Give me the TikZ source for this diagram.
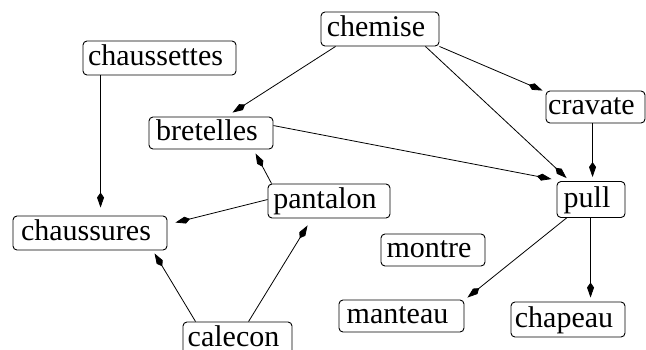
\documentclass[tikz,border=0pt]{standalone}
\usepackage{fontspec}
\setmainfont{Liberation Serif}
\usetikzlibrary{arrows.meta,calc}
\begin{document}
\begin{tikzpicture}[x=1pt,y=-1pt,
  box/.style={draw, rounded corners=4pt, line width=0.9pt, inner sep=0pt,
    minimum height=34pt, text height=20pt, text depth=5pt,
    font=\fontsize{30}{32}\selectfont, execute at end node={\kern8pt}},
  edge/.style={line width=0.8pt, -{Kite[length=15pt,width=7pt,inset=5pt]}}]
\useasboundingbox (0,0) rectangle (646,349);
\clip (0,0) rectangle (646,349);
\node[box, minimum width=153pt] (chaussettes) at (159.5,58) {chaussettes};
\node[box, minimum width=124pt, minimum height=32pt] (bretelles) at (211,133) {bretelles};
\node[box, minimum width=118pt] (chemise) at (380,29) {chemise};
\node[box, minimum width=99pt, minimum height=32pt] (cravate) at (595.5,107) {cravate};
\node[box, minimum width=68pt, minimum height=36pt] (pull) at (591,199.5) {pull};
\node[box, minimum width=122pt] (pantalon) at (329,201) {pantalon};
\node[box, minimum width=154pt] (chaussures) at (90,233) {chaussures};
\node[box, minimum width=109pt] (calecon) at (237.5,339) {calecon};
\node[box, minimum width=104pt, minimum height=32pt] (montre) at (433,250) {montre};
\node[box, minimum width=125pt, minimum height=32pt] (manteau) at (401.5,316) {manteau};
\node[box, minimum width=114pt, minimum height=35pt] (chapeau) at (568,319.5) {chapeau};

\draw[edge] ($(chaussettes.south west)+(18,0)$) -- ($(chaussures.north west)+(88,-8)$);
\draw[edge] ($(chemise.south west)+(15,0)$) -- ($(bretelles.north west)+(84,-4)$);
\draw[edge] (chemise.south east) -- ($(cravate.north west)+(-3,0)$);
\draw[edge] ($(chemise.south east)+(-14,0)$) -- ($(pull.north west)+(10,-3)$);
\draw[edge] ($(cravate.south west)+(47,0)$) -- ($(pull.north west)+(36,-4)$);
\draw[edge] ($(bretelles.north east)+(0,9)$) -- ($(pull.north west)+(-5,-2)$);
\draw[edge] ($(pantalon.north west)+(4,0)$) -- ($(bretelles.south west)+(107,4)$);
\draw[edge] ($(pantalon.north west)+(0,16)$) -- ($(chaussures.north east)+(8,7)$);
\draw[edge] ($(calecon.north west)+(13,0)$) -- ($(chaussures.south west)+(142,3)$);
\draw[edge] ($(calecon.north west)+(66,0)$) -- ($(pantalon.south west)+(40,7)$);
\draw[edge] ($(pull.south west)+(10,0)$) -- ($(manteau.north east)+(3,-2)$);
\draw[edge] ($(pull.south west)+(34,0)$) -- ($(chapeau.north west)+(80,-4)$);
\end{tikzpicture}
\end{document}
